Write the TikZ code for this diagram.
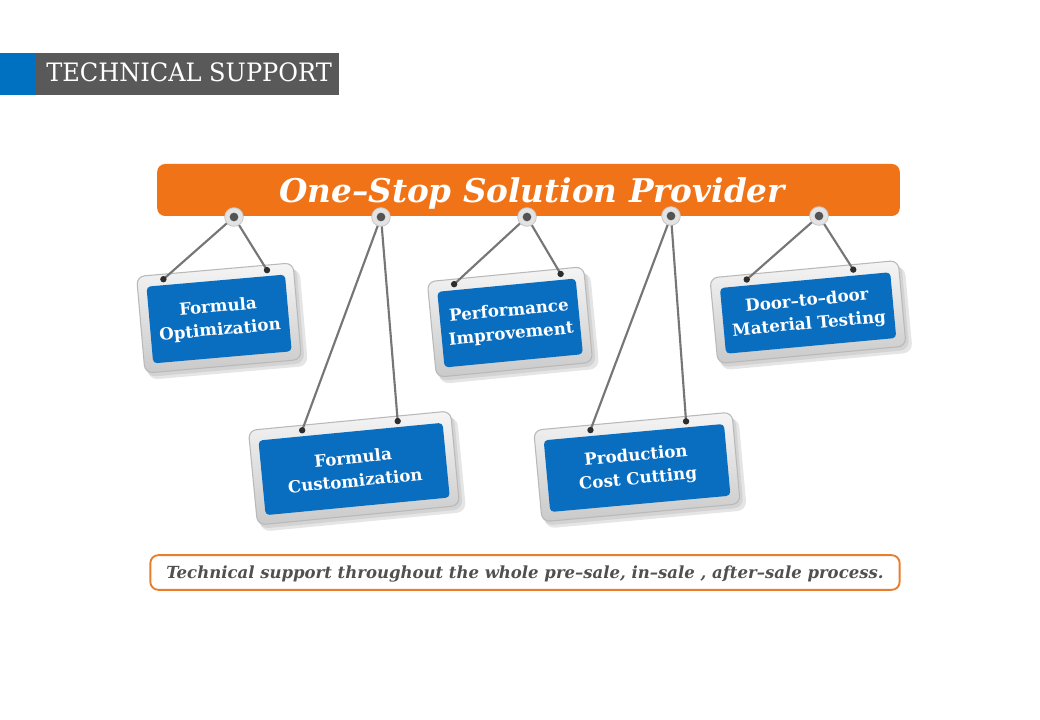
\documentclass[tikz,border=0pt]{standalone}
\usepackage{fontspec}
\setmainfont{DejaVu Serif}
\usetikzlibrary{calc}
\definecolor{hdrgray}{RGB}{89,89,89}
\definecolor{hdrblue}{RGB}{0,112,192}
\definecolor{orng}{RGB}{240,115,24}
\definecolor{orngline}{RGB}{232,125,44}
\definecolor{signblue}{RGB}{10,110,192}
\definecolor{strgray}{RGB}{118,118,118}
\definecolor{txtgray}{RGB}{80,80,80}
\tikzset{
  signframe/.style={top color=gray!8, bottom color=gray!42, draw=gray!55, line width=0.8pt, rounded corners=6pt},
  signface/.style={fill=signblue, rounded corners=3pt},
  signtext/.style={text=white, align=center, font=\bfseries\fontsize{12.5}{17.5}\selectfont, inner sep=0pt},
  pinball/.style={circle, fill=gray!22, draw=gray!45, line width=0.6pt, minimum size=14pt, inner sep=0pt},
  pincore/.style={circle, fill=gray!65!black, minimum size=6.5pt, inner sep=0pt},
  stringline/.style={draw=strgray, line width=1.6pt},
  hookdot/.style={fill=gray!35!black},
}
% name, cx, cy, angle, w, h, hookL, hookR, text
\newcommand{\hangsign}[9]{%
\begin{scope}[shift={(#2,#3)}, rotate=#4]
  \fill[black, opacity=0.10, rounded corners=7pt] ({-#5/2+3},{-#6/2+6}) rectangle ({#5/2+6},{#6/2+7});
  \fill[black, opacity=0.08, rounded corners=7pt] ({-#5/2+1},{-#6/2+3}) rectangle ({#5/2+3},{#6/2+4});
  \path[signframe] ({-#5/2},{-#6/2}) rectangle ({#5/2},{#6/2});
  \path[signface] ({-#5/2+9},{-#6/2+11}) rectangle ({#5/2-9},{#6/2-9});
  \coordinate (#1-l) at (#7,{-#6/2+5});
  \coordinate (#1-r) at (#8,{-#6/2+5});
  \node[signtext, rotate=#4] (#1) at (0,1) {#9};
\end{scope}}

\begin{document}
\begin{tikzpicture}[x=0.75pt,y=-0.75pt]
\useasboundingbox (0,0) rectangle (1040,720);
\fill[white] (0,0) rectangle (1040,720);

% header
\fill[hdrblue] (0,53) rectangle (36,95);
\fill[hdrgray] (36,53) rectangle (339,95);
\node[anchor=base west, text=white, inner sep=0pt, font=\fontsize{19}{19}\selectfont] (hdr) at (46,82) {\scalebox{0.95}[1]{TECHNICAL SUPPORT}};

% banner
\node[fill=orng, rounded corners=6pt, minimum width=557pt, minimum height=39pt, inner sep=0pt] (banner) at (528.5,190) {};
\node[anchor=base, text=white, inner sep=0pt, font=\bfseries\itshape\fontsize{24.5}{24.5}\selectfont] (title) at (532,203) {One–Stop Solution Provider};

% signs
\hangsign{s1}{219}{318}{5}{157}{97}{-52}{52}{Formula\\Optimization}
\hangsign{s2}{354}{468}{5.5}{203}{95}{-48}{48}{Formula\\Customization}
\hangsign{s3}{510}{322}{5.5}{157}{96}{-52}{55}{Performance\\Improvement}
\hangsign{s4}{637}{467}{5.2}{199}{92}{-43}{53}{Production\\Cost Cutting}
\hangsign{s5}{808}{312}{5.3}{189}{86}{-58}{49}{Door–to–door\\Material Testing}

% pins
\coordinate (p1) at (234,217);
\coordinate (p2) at (381,217);
\coordinate (p3) at (527,217);
\coordinate (p4) at (671,216);
\coordinate (p5) at (819,216);
\foreach \p/\s in {p1/s1,p2/s2,p3/s3,p4/s4,p5/s5}{
  \draw[stringline] (\p) -- (\s-l);
  \draw[stringline] (\p) -- (\s-r);
  \fill[hookdot] (\s-l) circle (3.2);
  \fill[hookdot] (\s-r) circle (3.2);
}
\foreach \p in {p1,p2,p3,p4,p5}{
  \node[pinball] (\p-ball) at (\p) {};
  \node[pincore] (\p-core) at (\p) {};
}

% bottom note
\node[draw=orngline, fill=white, line width=1.4pt, rounded corners=6pt, minimum width=562pt, minimum height=26pt, inner sep=0pt] (note) at (525,572.5) {};
\node[anchor=base, text=txtgray, inner sep=0pt, font=\bfseries\itshape\fontsize{12.5}{12.5}\selectfont] (notetext) at (525,578) {\scalebox{0.99}[1]{Technical support throughout the whole pre–sale, in–sale , after–sale process.}};
\end{tikzpicture}
\end{document}
